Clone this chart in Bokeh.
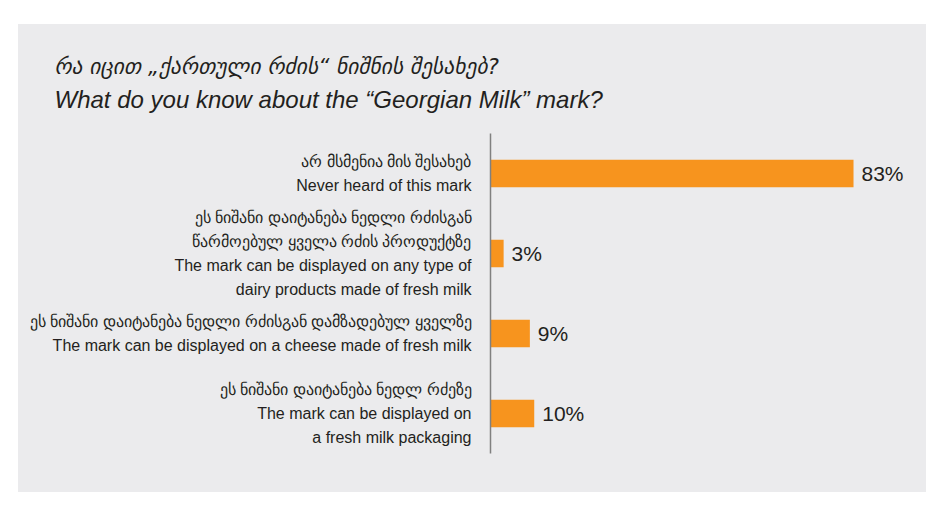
from bokeh.plotting import figure
from bokeh.models import ColumnDataSource, Range1d, FactorRange, LabelSet, Title
from bokeh.core.properties import value
from bokeh.embed import file_html
from bokeh.resources import INLINE

# ---- data ----
title_ka = "რა იცით „ქართული რძის“ ნიშნის შესახებ?"
title_en = "What do you know about the “Georgian Milk” mark?"

categories = [
    "არ მსმენია მის შესახებ\nNever heard of this mark",
    "ეს ნიშანი დაიტანება ნედლი რძისგან\nწარმოებულ ყველა რძის პროდუქტზე\nThe mark can be displayed on any type of\ndairy products made of fresh milk",
    "ეს ნიშანი დაიტანება ნედლი რძისგან დამზადებულ ყველზე\nThe mark can be displayed on a cheese made of fresh milk",
    "ეს ნიშანი დაიტანება ნედლ რძეზე\nThe mark can be displayed on\na fresh milk packaging",
]
values = [83, 3, 9, 10]
value_labels = ["83%", "3%", "9%", "10%"]

BG = "#EBEBED"
ORANGE = "#F7941E"
TEXT = "#231F20"

source = ColumnDataSource(dict(cat=categories, val=values, lab=value_labels))

p = figure(
    width=908, height=468,
    y_range=FactorRange(*list(reversed(categories))),
    x_range=Range1d(0, 97.4),
    output_backend="svg", toolbar_location=None,
    min_border_left=472, min_border_right=10,
    min_border_top=109, min_border_bottom=39,
)
p.margin = (24, 0, 0, 18)
p.styles = {"background-color": BG}
p.background_fill_color = BG
p.border_fill_color = BG
p.outline_line_color = None
p.xgrid.visible = False
p.ygrid.visible = False
p.xaxis.visible = False

p.hbar(y="cat", right="val", left=0, height=0.345, source=source,
       fill_color=ORANGE, line_color=None)

ax = p.yaxis[0]
ax.axis_line_color = "#808080"
ax.axis_line_width = 1.5
ax.major_tick_line_color = None
ax.minor_tick_line_color = None
ax.major_tick_out = 0
ax.major_tick_in = 0
ax.major_label_standoff = 19
ax.major_label_text_font = "Liberation Sans"
ax.major_label_text_font_size = "16px"
ax.major_label_text_color = TEXT
ax.major_label_text_line_height = 1.4

p.add_layout(LabelSet(x="val", y="cat", text="lab", source=source,
                      x_offset=8, text_baseline="middle",
                      text_font=value("Liberation Sans"), text_font_size=value("21px"),
                      text_color=value(TEXT)))

# titles: first added sits nearest the frame
p.add_layout(Title(text=title_en, align="left", offset=-436, standoff=42,
                   text_font="Liberation Sans", text_font_style="italic",
                   text_font_size="24px", text_color=TEXT), "above")
p.add_layout(Title(text=title_ka, align="left", offset=-436, standoff=-32,
                   text_font="DejaVu Sans", text_font_style="italic",
                   text_font_size="21.5px", text_color=TEXT), "above")

open("out.html", "w").write(file_html(p, INLINE))
